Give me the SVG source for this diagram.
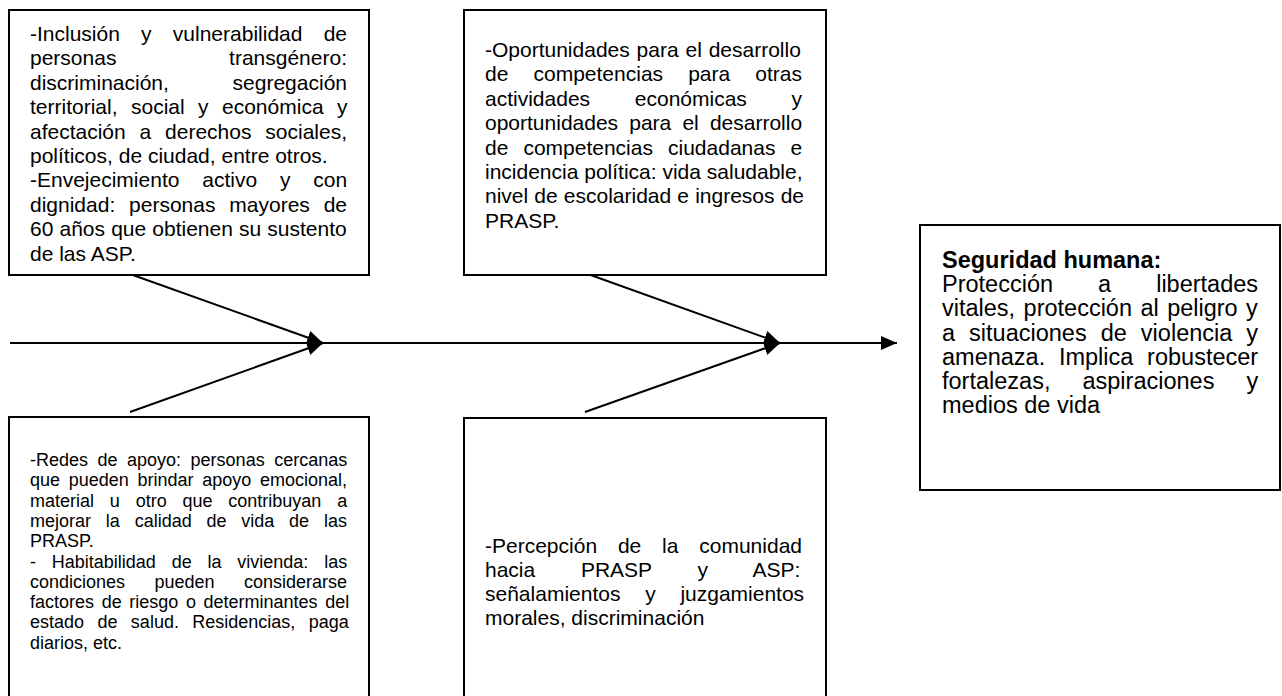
<svg xmlns="http://www.w3.org/2000/svg" width="1282" height="696" viewBox="0 0 1282 696">
<style>
.box{fill:#fff;stroke:#000;stroke-width:2}
.t{font-family:"Liberation Sans",Arial,sans-serif;font-size:21px;fill:#000}
.s{font-size:18px}
.m{font-size:23.5px}
.b{font-weight:bold}
.e{text-anchor:end}
.c{stroke:#000;stroke-width:2;fill:none}
</style>
<defs>
<marker id="ah" markerUnits="userSpaceOnUse" markerWidth="17" markerHeight="14" refX="16" refY="7" orient="auto">
<path d="M0,0 L16,7 L0,14 z" fill="#000"/>
</marker>
</defs>
<rect width="1282" height="696" fill="#fff"/>
<g id="connectors">
<line class="c" x1="10" y1="343" x2="897" y2="343" marker-end="url(#ah)"/>
<line class="c" x1="130" y1="274" x2="323" y2="343" marker-end="url(#ah)"/>
<line class="c" x1="130" y1="412" x2="323" y2="343" marker-end="url(#ah)"/>
<line class="c" x1="585" y1="273" x2="780" y2="343" marker-end="url(#ah)"/>
<line class="c" x1="585" y1="412" x2="780" y2="343" marker-end="url(#ah)"/>
</g>
<g id="node-inclusion">
<rect class="box" x="9" y="10" width="360" height="265"/>
<text class="t" x="30" y="41" word-spacing="15.4">-Inclusión y vulnerabilidad de</text>
<text class="t" x="30" y="65.4">personas</text>
<text class="t e" x="347" y="65.4">transgénero:</text>
<text class="t" x="30" y="89.8">discriminación,</text>
<text class="t e" x="347" y="89.8">segregación</text>
<text class="t" x="30" y="114.2" word-spacing="7.6">territorial, social y económica y</text>
<text class="t" x="30" y="138.6" word-spacing="8">afectación a derechos sociales,</text>
<text class="t" x="30" y="163">políticos, de ciudad, entre otros.</text>
<text class="t" x="30" y="187.4" word-spacing="17">-Envejecimiento activo y con</text>
<text class="t" x="30" y="211.8" word-spacing="8">dignidad: personas mayores de</text>
<text class="t" x="30" y="236.2" word-spacing="0.3">60 años que obtienen su sustento</text>
<text class="t" x="30" y="260.6">de las ASP.</text>
</g>
<g id="node-oportunidades">
<rect class="box" x="464" y="10" width="362" height="265"/>
<text class="t" x="485" y="57" word-spacing="1">-Oportunidades para el desarrollo</text>
<text class="t" x="485" y="81.4" word-spacing="19.3">de competencias para otras</text>
<text class="t" x="485" y="105.8" word-spacing="38.9">actividades económicas y</text>
<text class="t" x="485" y="130.2" word-spacing="5.3">oportunidades para el desarrollo</text>
<text class="t" x="485" y="154.6" word-spacing="9.2">de competencias ciudadanas e</text>
<text class="t" x="485" y="179">incidencia política: vida saludable,</text>
<text class="t" x="485" y="203.4" word-spacing="0.3">nivel de escolaridad e ingresos de</text>
<text class="t" x="485" y="227.8">PRASP.</text>
</g>
<g id="node-seguridad">
<rect class="box" x="920" y="225" width="360" height="265"/>
<text class="t m b" x="942" y="268">Seguridad humana:</text>
<text class="t m" x="942" y="292.2" word-spacing="38.5">Protección a libertades</text>
<text class="t m" x="942" y="316.4" word-spacing="1.9">vitales, protección al peligro y</text>
<text class="t m" x="942" y="340.6" word-spacing="7.5">a situaciones de violencia y</text>
<text class="t m" x="942" y="364.8" word-spacing="7.2">amenaza. Implica robustecer</text>
<text class="t m" x="942" y="389" word-spacing="25.5">fortalezas, aspiraciones y</text>
<text class="t m" x="942" y="413.2">medios de vida</text>
</g>
<g id="node-redes">
<rect class="box" x="9" y="417" width="360" height="300"/>
<text class="t s" x="30" y="466" word-spacing="4.5">-Redes de apoyo: personas cercanas</text>
<text class="t s" x="30" y="486.3" word-spacing="3.7">que pueden brindar apoyo emocional,</text>
<text class="t s" x="30" y="506.6" word-spacing="10.8">material u otro que contribuyan a</text>
<text class="t s" x="30" y="526.9" word-spacing="9.8">mejorar la calidad de vida de las</text>
<text class="t s" x="30" y="547.2">PRASP.</text>
<text class="t s" x="30" y="567.5" word-spacing="10.8">- Habitabilidad de la vivienda: las</text>
<text class="t s" x="30" y="587.8" word-spacing="24.4">condiciones pueden considerarse</text>
<text class="t s" x="30" y="608.1" word-spacing="2.6">factores de riesgo o determinantes del</text>
<text class="t s" x="30" y="628.4" word-spacing="8.4">estado de salud. Residencias, paga</text>
<text class="t s" x="30" y="648.7">diarios, etc.</text>
</g>
<g id="node-percepcion">
<rect class="box" x="464" y="418" width="362" height="300"/>
<text class="t" x="485" y="553" word-spacing="15">-Percepción de la comunidad</text>
<text class="t" x="485" y="577" word-spacing="39.9">hacia PRASP y ASP:</text>
<text class="t" x="485" y="601" word-spacing="18.9">señalamientos y juzgamientos</text>
<text class="t" x="485" y="625">morales, discriminación</text>
</g>
</svg>
